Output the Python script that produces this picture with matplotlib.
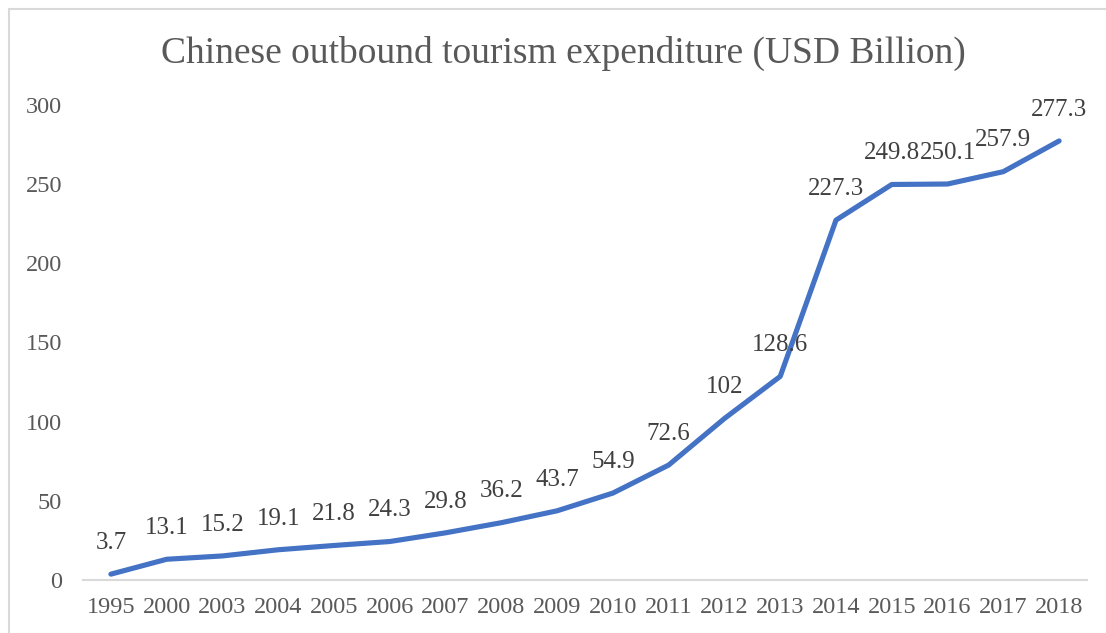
import matplotlib.pyplot as plt
from matplotlib.patches import Rectangle

years = ["1995", "2000", "2003", "2004", "2005", "2006", "2007", "2008", "2009",
         "2010", "2011", "2012", "2013", "2014", "2015", "2016", "2017", "2018"]
spending = [3.7, 13.1, 15.2, 19.1, 21.8, 24.3, 29.8, 36.2, 43.7,
            54.9, 72.6, 102, 128.6, 227.3, 249.8, 250.1, 257.9, 277.3]
value_labels = ["3.7", "13.1", "15.2", "19.1", "21.8", "24.3", "29.8", "36.2", "43.7",
                "54.9", "72.6", "102", "128.6", "227.3", "249.8", "250.1", "257.9", "277.3"]
y_ticks = [0, 50, 100, 150, 200, 250, 300]

plt.rcParams['font.family'] = ['Liberation Serif', 'DejaVu Serif']

fig = plt.figure(figsize=(11.06, 6.33), dpi=100)
fig.patch.set_facecolor('white')

# light chart-area frame
fig.add_artist(Rectangle((9 / 1106, -0.05), 1.2, 1 - 9 / 633 + 0.05,
                         transform=fig.transFigure, fill=False,
                         edgecolor='#d9d9d9', linewidth=1.5))

ax = fig.add_axes([83 / 1106, 53 / 633, 1004 / 1106, 475 / 633])
x = list(range(len(years)))
ax.plot(x, spending, color='#4472C4', linewidth=3.7, solid_joinstyle='round',
        solid_capstyle='round', zorder=3)

for xi, yi, lab in zip(x, spending, value_labels):
    ax.annotate(lab, (xi, yi), xytext=(0, 22.5), textcoords='offset points',
                ha='center', va='center', fontsize=18, color='#404040', zorder=4)

ax.set_xlim(-0.5, len(years) - 0.5)
ax.set_ylim(0, 300)
ax.set_xticks(x)
ax.set_xticklabels(years)
ax.set_yticks(y_ticks)
ax.tick_params(axis='both', length=0, labelsize=17.5, labelcolor='#595959')
ax.tick_params(axis='x', pad=12)
ax.tick_params(axis='y', pad=15)
for side in ['top', 'right', 'left']:
    ax.spines[side].set_visible(False)
ax.spines['bottom'].set_color('#d9d9d9')
ax.spines['bottom'].set_linewidth(1.5)

fig.text(563 / 1106, 1 - 53 / 633, "Chinese outbound tourism expenditure (USD Billion)",
         ha='center', va='center', fontsize=27, color='#595959')

fig.savefig('out.png', dpi=100)
